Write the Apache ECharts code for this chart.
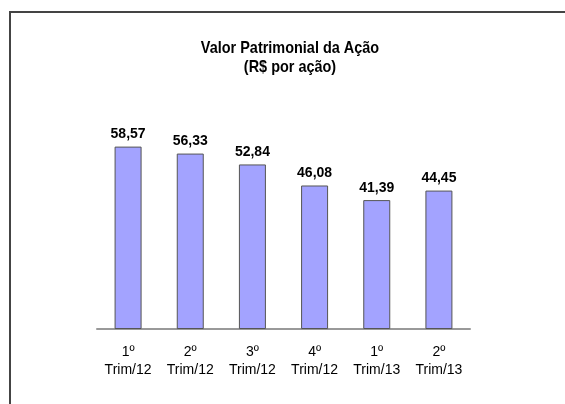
<!DOCTYPE html>
<html>
<head>
<meta charset="utf-8">
<script src="https://cdn.jsdelivr.net/npm/echarts@6/dist/echarts.min.js"></script>
<style>
  html, body { margin: 0; padding: 0; background: #fff; }
  #main { width: 565px; height: 404px; }
</style>
</head>
<body>
<div id="main"></div>
<script>
// dados do gráfico
var trimestres = ['1º\nTrim/12', '2º\nTrim/12', '3º\nTrim/12', '4º\nTrim/12', '1º\nTrim/13', '2º\nTrim/13']
var valores = [58.57, 56.33, 52.84, 46.08, 41.39, 44.45]

var fonte = '"Liberation Sans", Arial, sans-serif'

var myChart = echarts.init(document.getElementById('main'))
var option = {
  backgroundColor: '#fff',
  animation: false,
  graphic: [
    // moldura
    {
      type: 'rect',
      shape: { x: 10, y: 12, width: 600, height: 500 },
      style: { fill: 'none', stroke: '#444', lineWidth: 2 },
      silent: true
    },
    // título (fonte estreita simulada)
    {
      type: 'text',
      x: 290,
      y: 39,
      scaleX: 0.85,
      style: {
        text: 'Valor Patrimonial da Ação\n(R$ por ação)',
        fontFamily: fonte,
        fontSize: 17,
        fontWeight: 'bold',
        fill: '#000',
        lineHeight: 19,
        align: 'center',
        verticalAlign: 'top'
      },
      silent: true
    }
  ],
  grid: {
    left: 97,
    right: 95,
    top: 111,
    bottom: 75
  },
  xAxis: {
    type: 'category',
    data: trimestres,
    axisLine: { lineStyle: { color: '#999', width: 2 } },
    axisTick: { length: 4, lineStyle: { color: '#666' } },
    axisLabel: {
      interval: 0,
      fontFamily: fonte,
      fontSize: 14,
      color: '#000',
      lineHeight: 18,
      margin: 14
    }
  },
  yAxis: {
    type: 'value',
    min: 0,
    max: 70,
    show: false,
    splitLine: { show: false }
  },
  series: [
    {
      type: 'bar',
      data: valores,
      barWidth: 27,
      itemStyle: {
        color: '#a3a3ff',
        borderColor: '#555',
        borderWidth: 1
      },
      label: {
        show: true,
        position: 'top',
        distance: 5,
        fontFamily: fonte,
        fontSize: 14,
        fontWeight: 'bold',
        color: '#000',
        formatter: function (p) {
          return p.value.toFixed(2).replace('.', ',')
        }
      }
    }
  ]
}
myChart.setOption(option)
</script>
</body>
</html>
